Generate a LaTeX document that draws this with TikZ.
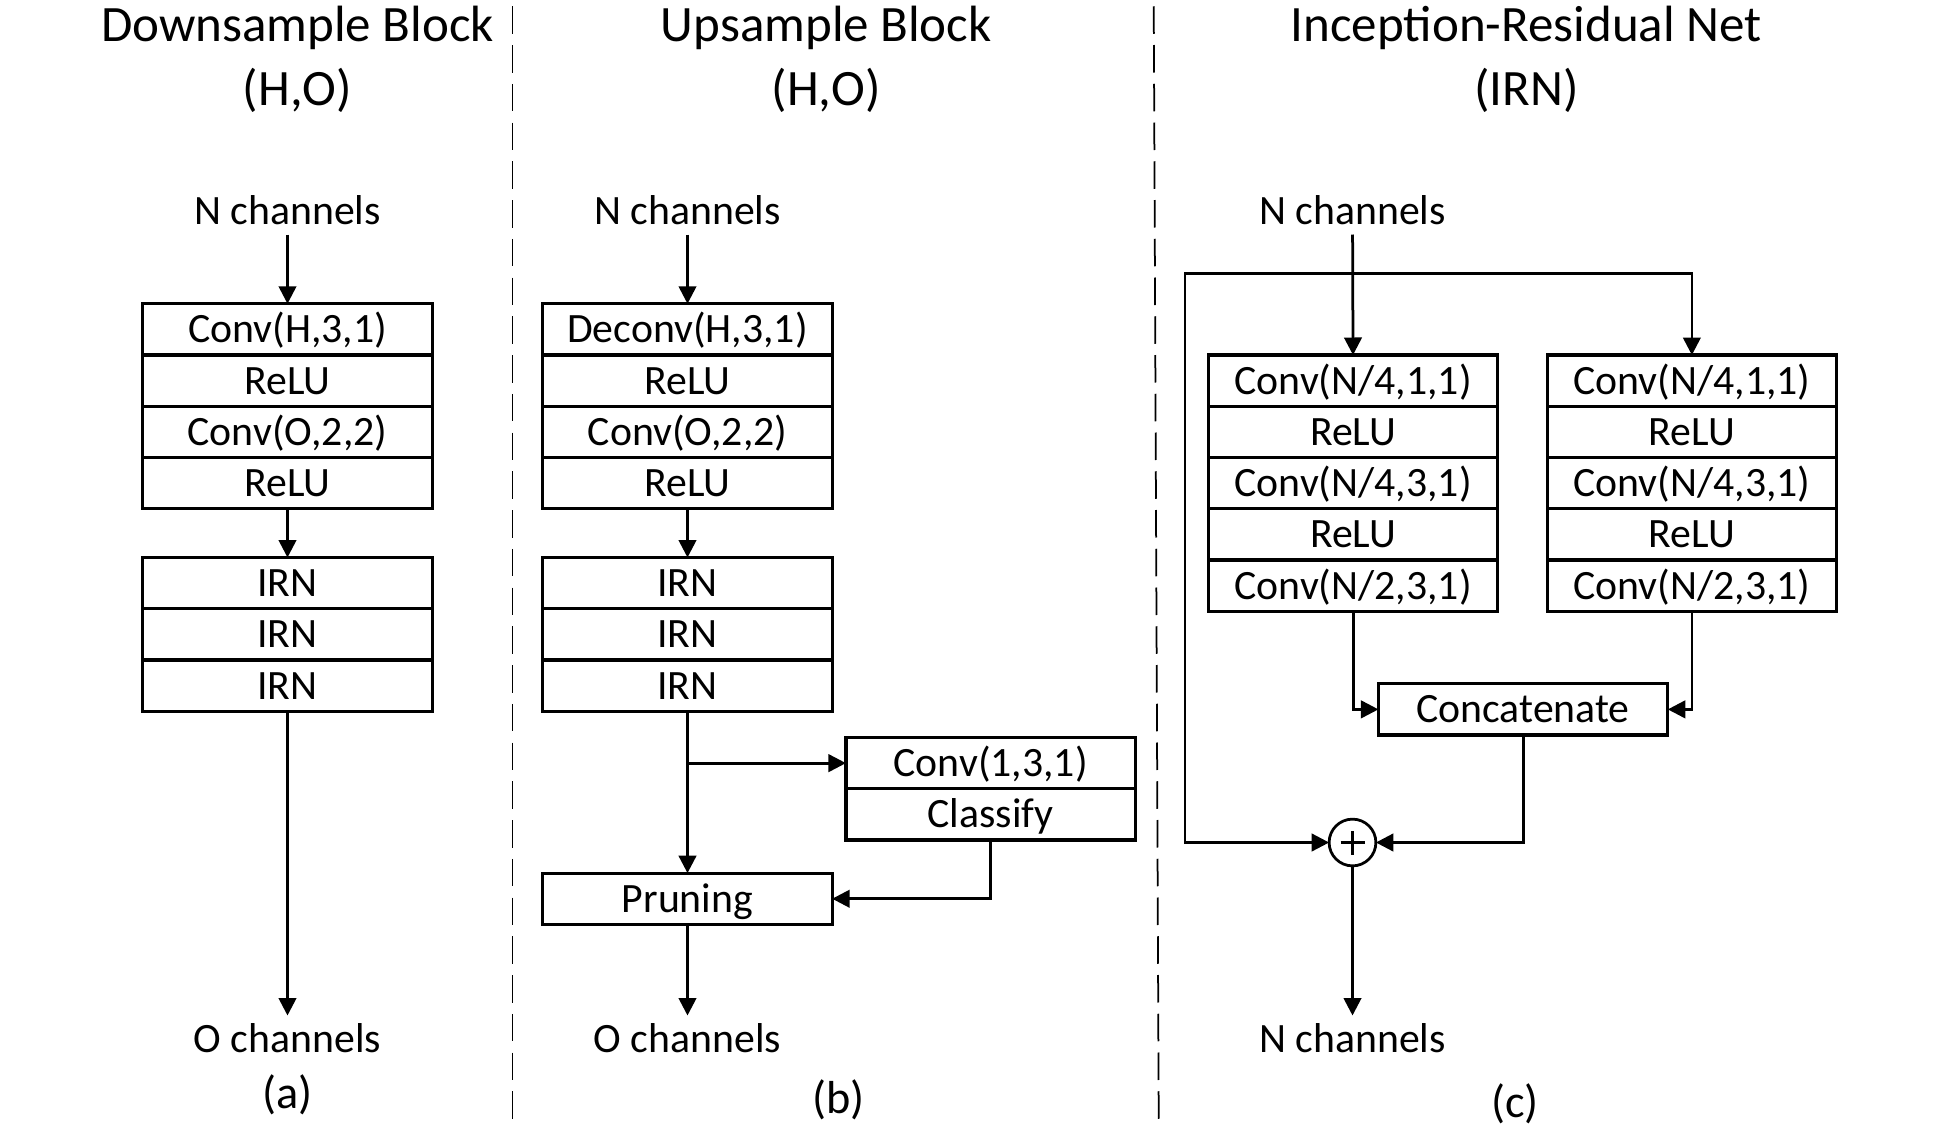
\documentclass[tikz,border=0pt]{standalone}
\usepackage{fontspec}
\setmainfont{Carlito}
\usetikzlibrary{positioning,arrows.meta}

\tikzset{
  layer/.style={draw, line width=1.3pt, minimum width=115.75pt, minimum height=20.5pt,
    inner sep=0pt, outer sep=0pt, text height=12.5pt, text depth=1.7pt,
    font=\fontsize{16.7}{18}\selectfont},
  chan/.style={inner sep=2pt, text height=12.5pt, text depth=1.7pt,
    font=\fontsize{16.7}{18}\selectfont},
  headline/.style={inner sep=0pt, font=\fontsize{20.4}{24}\selectfont},
  caption/.style={inner sep=0pt, font=\fontsize{18.5}{22}\selectfont},
  arr/.style={-{Triangle[length=7pt,width=7pt]}, line width=1.1pt},
  twoarr/.style={{Triangle[length=7pt,width=7pt]}-{Triangle[length=7pt,width=7pt]}, line width=1.1pt},
  sep/.style={dash pattern=on 11pt off 4.5pt, line width=0.7pt},
  addop/.style={draw, circle, line width=1.1pt, minimum size=18.7pt, inner sep=0pt, outer sep=0pt,
    path picture={
      \draw[line width=1.1pt] ([xshift=-4.8pt]path picture bounding box.center) -- ([xshift=4.8pt]path picture bounding box.center);
      \draw[line width=1.1pt] ([yshift=-4.8pt]path picture bounding box.center) -- ([yshift=4.8pt]path picture bounding box.center);
    }},
}

\begin{document}
\begin{tikzpicture}[x=0.5pt,y=-0.5pt]
  \useasboundingbox (0,0) rectangle (1560,905);

  % separators
  \draw [sep] (410,5) -- (410,900);
  \draw [sep] (923,5) -- (927,900);

  % (a) downsample block
  \node [headline] (ta) at (238,22) {Downsample Block};
  \node [headline] (tah) at (238,72) {(H,O)};
  \node [chan] (ina) at (230,169) {N channels};
  \node [layer] (a1) at (230,263.5) {Conv(H,3,1)};
  \node [layer, below=0pt of a1] (a2) {ReLU};
  \node [layer, below=0pt of a2] (a3) {Conv(O,2,2)};
  \node [layer, below=0pt of a3] (a4) {ReLU};
  \node [layer] (a5) at (230,466.5) {IRN};
  \node [layer, below=0pt of a5] (a6) {IRN};
  \node [layer, below=0pt of a6] (a7) {IRN};
  \node [chan] (outa) at (230,831) {O channels};
  \node [caption] (capa) at (230,876) {(a)};
  \draw [arr] (ina) -- (a1);
  \draw [arr] (a4) -- (a5);
  \draw [arr] (a7) -- (outa);

  % (b) upsample block
  \node [headline] (tb) at (661,22) {Upsample Block};
  \node [headline] (tbh) at (661,72) {(H,O)};
  \node [chan] (inb) at (550,169) {N channels};
  \node [layer] (b1) at (550,263.5) {Deconv(H,3,1)};
  \node [layer, below=0pt of b1] (b2) {ReLU};
  \node [layer, below=0pt of b2] (b3) {Conv(O,2,2)};
  \node [layer, below=0pt of b3] (b4) {ReLU};
  \node [layer] (b5) at (550,466.5) {IRN};
  \node [layer, below=0pt of b5] (b6) {IRN};
  \node [layer, below=0pt of b6] (b7) {IRN};
  \node [layer] (b8) at (792.5,610.5) {Conv(1,3,1)};
  \node [layer, below=0pt of b8] (b9) {Classify};
  \node [layer] (prune) at (550,719) {Pruning};
  \node [chan] (outb) at (550,831) {O channels};
  \node [caption] (capb) at (671,880) {(b)};
  \draw [arr] (inb) -- (b1);
  \draw [arr] (b4) -- (b5);
  \draw [arr] (b7) -- (prune);
  \draw [arr] (b7.south |- b8.west) -- (b8.west);
  \draw [arr] (b9.south) |- (prune.east);
  \draw [arr] (prune) -- (outb);

  % (c) inception-residual net
  \node [headline] (tc) at (1221,22) {Inception-Residual Net};
  \node [headline] (tch) at (1221,72) {(IRN)};
  \node [chan] (inc) at (1082,169) {N channels};
  \node [layer] (c1) at (1082.5,304.5) {Conv(N/4,1,1)};
  \node [layer, below=0pt of c1] (c2) {ReLU};
  \node [layer, below=0pt of c2] (c3) {Conv(N/4,3,1)};
  \node [layer, below=0pt of c3] (c4) {ReLU};
  \node [layer, below=0pt of c4] (c5) {Conv(N/2,3,1)};
  \node [layer] (d1) at (1353.5,304.5) {Conv(N/4,1,1)};
  \node [layer, below=0pt of d1] (d2) {ReLU};
  \node [layer, below=0pt of d2] (d3) {Conv(N/4,3,1)};
  \node [layer, below=0pt of d3] (d4) {ReLU};
  \node [layer, below=0pt of d4] (d5) {Conv(N/2,3,1)};
  \node [layer] (cat) at (1218.5,567.5) {Concatenate};
  \node [addop] (plus) at (1082,674) {};
  \node [chan] (outc) at (1082,831) {N channels};
  \node [caption] (capc) at (1212,883) {(c)};
  \coordinate (loop) at (948,219);
  \draw [arr] (inc) -- (c1);
  \draw [twoarr] (plus.west) -| (loop) -| (d1.north);
  \draw [arr] (c5.south) |- (cat.west);
  \draw [arr] (d5.south) |- (cat.east);
  \draw [arr] (cat.south) |- (plus.east);
  \draw [arr] (plus) -- (outc);
\end{tikzpicture}
\end{document}
